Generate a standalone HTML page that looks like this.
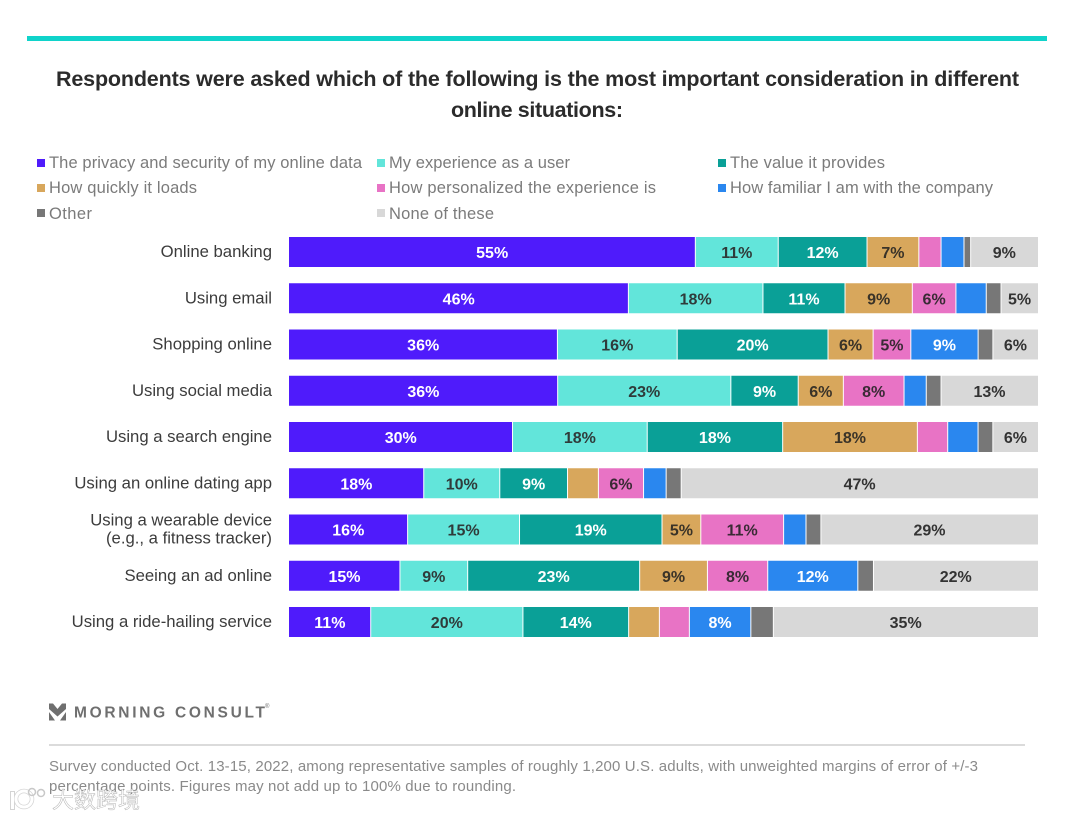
<!DOCTYPE html>
<html lang="en">
<head>
<meta charset="utf-8">
<title>Online considerations chart</title>
<style>
html,body{margin:0;padding:0;background:#fff;width:1080px;height:819px;overflow:hidden}
svg{display:block;font-family:"Liberation Sans","Noto Sans CJK SC",sans-serif}
.legend-text{font-size:16.5px;fill:#7b7b7b}
.cat{font-size:16.7px;fill:#3c3c3c;text-anchor:end}
.val{font-size:16px;font-weight:700;text-anchor:middle}
.foot{font-size:15px;fill:#8a8a8a}
</style>
</head>
<body>
<svg id="chart" width="1080" height="819" viewBox="0 0 1080 819" xmlns="http://www.w3.org/2000/svg">
  <rect x="27" y="36" width="1020" height="5" fill="#10d3ca"/>
  <text x="56" y="86" font-size="21.5" font-weight="700" fill="#2b2b2b" textLength="963" lengthAdjust="spacing">Respondents were asked which of the following is the most important consideration in different</text>
  <text x="451" y="117" font-size="21.5" font-weight="700" fill="#2b2b2b" textLength="172" lengthAdjust="spacing">online situations:</text>

  <g>
    <rect x="37" y="159" width="8" height="8" fill="#4f1bfb"/>
    <text class="legend-text" x="49" y="168" textLength="313">The privacy and security of my online data</text>
    <rect x="377" y="159" width="8" height="8" fill="#62e5da"/>
    <text class="legend-text" x="389" y="168" textLength="181">My experience as a user</text>
    <rect x="718" y="159" width="8" height="8" fill="#0aa097"/>
    <text class="legend-text" x="730" y="168" textLength="155">The value it provides</text>
    <rect x="37" y="184" width="8" height="8" fill="#d8a75c"/>
    <text class="legend-text" x="49" y="193" textLength="148">How quickly it loads</text>
    <rect x="377" y="184" width="8" height="8" fill="#e873c5"/>
    <text class="legend-text" x="389" y="193" textLength="267">How personalized the experience is</text>
    <rect x="718" y="184" width="8" height="8" fill="#2a87ef"/>
    <text class="legend-text" x="730" y="193" textLength="263">How familiar I am with the company</text>
    <rect x="37" y="209" width="8" height="8" fill="#777777"/>
    <text class="legend-text" x="49" y="219" textLength="43">Other</text>
    <rect x="377" y="209" width="8" height="8" fill="#d8d8d8"/>
    <text class="legend-text" x="389" y="219" textLength="105">None of these</text>
  </g>

  <g id="plot"></g>

  <g>
    <path d="M49 703.5 L53 703.5 L57.5 709 L62 703.5 L66 703.5 L66 709 L57.5 716.5 L49 709 Z M49 712 L55 720.5 L49 720.5 Z M66 712 L66 720.5 L60 720.5 Z" fill="#6f6f6f"/>
    <text x="74" y="717.5" font-size="15.5" font-weight="700" fill="#6f6f6f" textLength="191" lengthAdjust="spacing">MORNING CONSULT</text>
    <text x="265" y="708" font-size="6" fill="#6f6f6f">®</text>
  </g>

  <line x1="49" y1="745" x2="1025" y2="745" stroke="#cfcfcf" stroke-width="1.5"/>
  <text class="foot" x="49" y="771" textLength="929">Survey conducted Oct. 13-15, 2022, among representative samples of roughly 1,200 U.S. adults, with unweighted margins of error of +/-3</text>
  <text class="foot" x="49" y="791" textLength="467">percentage points. Figures may not add up to 100% due to rounding.</text>

  <g>
    <circle cx="24" cy="799" r="8" fill="none" stroke="#d4d4d4" stroke-width="4.5"/>
    <rect x="10" y="791" width="5" height="19" fill="#d4d4d4"/>
    <circle cx="24" cy="799" r="8" fill="none" stroke="#fff" stroke-width="3"/>
    <circle cx="32" cy="792" r="3.5" fill="none" stroke="#c8c8c8" stroke-width="1.5"/>
    <circle cx="41" cy="793" r="3.5" fill="none" stroke="#c8c8c8" stroke-width="1.5"/>
    <rect x="11" y="792" width="3" height="17" fill="#fff"/>
    <text x="52" y="808" font-size="22" font-family="'Liberation Sans','Noto Sans CJK SC',sans-serif" fill="#fff" stroke="#b5b5b5" stroke-width="0.5" textLength="88">大数跨境</text>
  </g>
</svg>
<script>
const categories = [
  ["Online banking"],
  ["Using email"],
  ["Shopping online"],
  ["Using social media"],
  ["Using a search engine"],
  ["Using an online dating app"],
  ["Using a wearable device", "(e.g., a fitness tracker)"],
  ["Seeing an ad online"],
  ["Using a ride-hailing service"]
];
const seriesNames = ["privacy", "experience", "value", "speed", "personalized", "familiar", "other", "none"];
const seriesColors = ["#4f1bfb", "#62e5da", "#0aa097", "#d8a75c", "#e873c5", "#2a87ef", "#777777", "#d8d8d8"];
const labelColors = ["#ffffff", "#2f3b3a", "#ffffff", "#3a3328", "#3a2a35", "#ffffff", "#ffffff", "#333333"];
const privacy = [54.9, 45.9, 36.3, 36.3, 30.2, 17.9, 15.9, 14.9, 10.9];
const experience = [11.2, 18.2, 16.2, 23.4, 18.2, 10.1, 15.0, 9.1, 20.3];
const valueProvided = [12.0, 11.1, 20.4, 9.1, 18.3, 9.0, 19.1, 23.1, 14.1];
const speed = [7.0, 9.1, 6.1, 6.1, 18.2, 4.1, 5.2, 9.1, 4.1];
const personalized = [3.0, 5.9, 5.1, 8.2, 4.1, 6.0, 11.1, 8.1, 4.0];
const familiar = [3.1, 4.1, 9.1, 3.0, 4.1, 3.0, 3.0, 12.1, 8.2];
const other = [0.9, 2.0, 2.0, 2.0, 2.0, 2.0, 2.0, 2.1, 3.0];
const noneOfThese = [9.1, 5.0, 6.1, 13.1, 6.1, 47.4, 29.1, 22.1, 35.3];
const seriesValues = [privacy, experience, valueProvided, speed, personalized, familiar, other, noneOfThese];

const NS = "http://www.w3.org/2000/svg";
const plot = document.getElementById("plot");
const plotLeft = 289, plotWidth = 749, firstBarTop = 237, rowStep = 46.25, barHeight = 30, minLabelled = 5;

function xScale(share) { return plotLeft + share * plotWidth; }
function yScale(row) { return firstBarTop + row * rowStep; }

categories.forEach(function (lines, row) {
  const total = seriesValues.reduce(function (s, arr) { return s + arr[row]; }, 0);
  const barY = yScale(row);
  const gapped = lines.length > 1;
  lines.forEach(function (line, i) {
    const t = document.createElementNS(NS, "text");
    
    
    t.setAttribute("class", "cat");
    t.setAttribute("x", 272);
    t.setAttribute("y", barY + (gapped ? 11 + i * 18 : 20));
    t.textContent = line;
    plot.appendChild(t);
  });
  let running = 0;
  seriesValues.forEach(function (arr, s) {
    const v = arr[row];
    const x0 = xScale(running / total);
    const x1 = xScale((running + v) / total);
    running += v;
    const left = s === 0 ? x0 : x0 + 0.5;
    const right = s === seriesValues.length - 1 ? x1 : x1 - 0.5;
    const r = document.createElementNS(NS, "rect");
    
    
    r.setAttribute("data-series", seriesNames[s]);
    r.setAttribute("x", left);
    r.setAttribute("y", barY);
    r.setAttribute("width", Math.max(0, right - left));
    r.setAttribute("height", barHeight);
    r.setAttribute("fill", seriesColors[s]);
    plot.appendChild(r);
    if (v >= minLabelled) {
      const t = document.createElementNS(NS, "text");
      
      
      t.setAttribute("class", "val");
      t.setAttribute("x", (x0 + x1) / 2);
      t.setAttribute("y", barY + barHeight / 2 + 6);
      t.setAttribute("fill", labelColors[s]);
      t.textContent = Math.round(v) + "%";
      plot.appendChild(t);
    }
  });
});
</script>
</body>
</html>
